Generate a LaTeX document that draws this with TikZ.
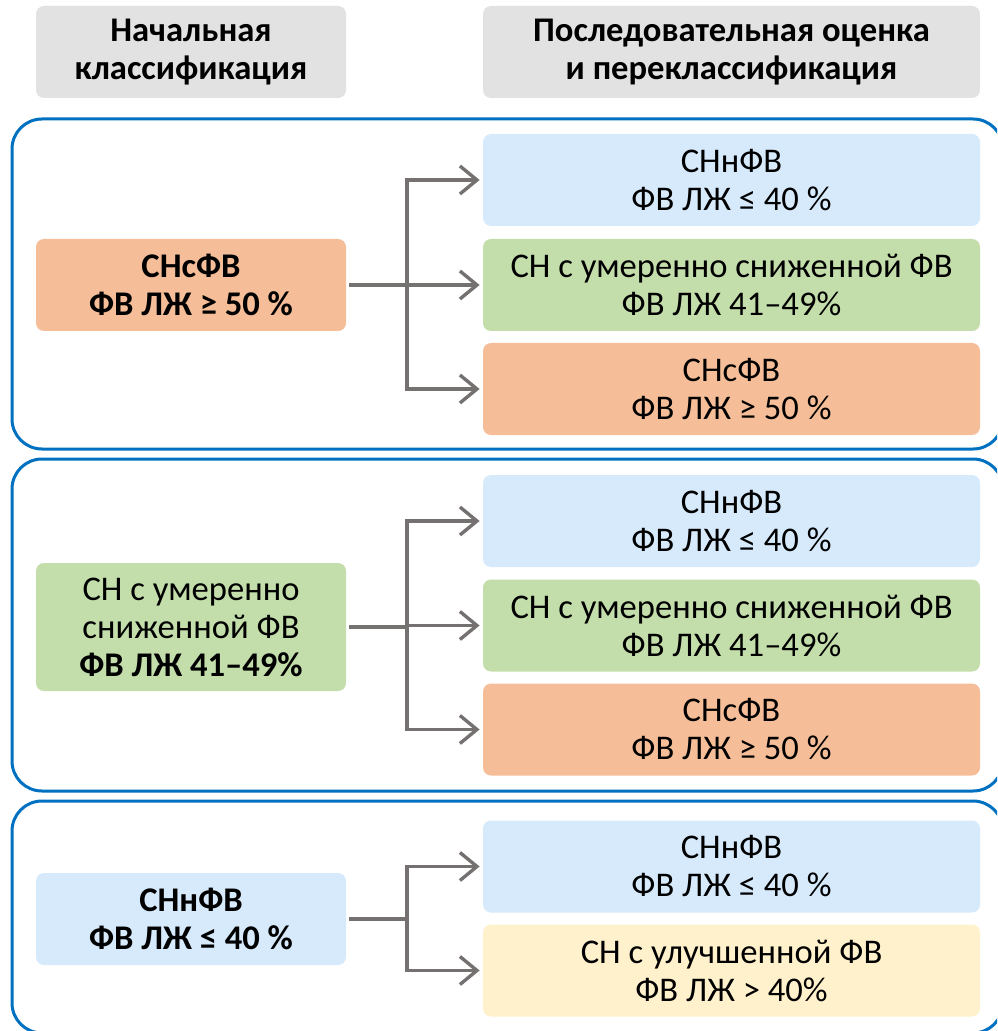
\documentclass[tikz,border=0pt]{standalone}
\usepackage{fontspec}
\setmainfont{Carlito}
\usetikzlibrary{arrows.meta,positioning}
\definecolor{frameblue}{HTML}{0070C0}
\definecolor{hdrgray}{HTML}{E2E2E2}
\definecolor{arrgray}{HTML}{767171}
\definecolor{boxblue}{HTML}{D6EAFC}
\definecolor{boxgreen}{HTML}{C3DEAB}
\definecolor{boxorange}{HTML}{F5BE98}
\definecolor{boxyellow}{HTML}{FFF1CC}

\begin{document}
\begin{tikzpicture}[x=0.5pt,y=-0.5pt,>={Straight Barb[length=8.5pt,width=14pt]},
  box/.style={rounded corners=4pt, align=center, inner sep=0pt,
    font=\fontsize{17.3}{19}\selectfont},
  lbox/.style={box, minimum width=155pt, minimum height=46pt},
  rbox/.style={box, minimum width=248.5pt, minimum height=46pt},
  hdr/.style={box, fill=hdrgray, minimum height=46pt,
    font=\fontsize{17.3}{19}\selectfont\bfseries},
  frame/.style={draw=frameblue, line width=1.5pt, rounded corners=15pt},
  conn/.style={draw=arrgray, line width=1.7pt}]
\useasboundingbox (0,0) rectangle (997,1031);
\clip (0,0) rectangle (997,1031);

% headers
\node[hdr, minimum width=155pt] (h1) at (191,52) {Начальная\\классификация};
\node[hdr, minimum width=248.5pt] (h2) at (731.5,52) {Последовательная оценка\\и переклассификация};

% frames
\draw[frame] (12,119) rectangle (1003,449);
\draw[frame] (12,459) rectangle (1003,791);
\draw[frame] (12,801) rectangle (1003,1033);

% first group
\node[lbox, fill=boxorange] (l1) at (191,285) {\textbf{СНсФВ}\\\textbf{ФВ ЛЖ ≥ 50 \%}};
\node[rbox, fill=boxblue] (r1a) at (731.5,180) {СНнФВ\\ФВ ЛЖ ≤ 40 \%};
\node[rbox, fill=boxgreen] (r1b) at (731.5,285) {СН с умеренно сниженной ФВ\\ФВ ЛЖ 41–49\%};
\node[rbox, fill=boxorange] (r1c) at (731.5,389) {СНсФВ\\ФВ ЛЖ ≥ 50 \%};
\coordinate (j1) at (407,285);
\draw[conn, shorten <=1.5pt] (l1) -- (j1);
\draw[conn, ->, shorten >=1.5pt] (j1) |- (r1a);
\draw[conn, ->, shorten >=1.5pt] (j1) -- (r1b);
\draw[conn, ->, shorten >=1.5pt] (j1) |- (r1c);

% second group
\node[lbox, fill=boxgreen, minimum height=64pt] (l2) at (191,627) {СН с умеренно\\сниженной ФВ\\\textbf{ФВ ЛЖ 41–49\%}};
\node[rbox, fill=boxblue] (r2a) at (731.5,521) {СНнФВ\\ФВ ЛЖ ≤ 40 \%};
\node[rbox, fill=boxgreen] (r2b) at (731.5,625.5) {СН с умеренно сниженной ФВ\\ФВ ЛЖ 41–49\%};
\node[rbox, fill=boxorange] (r2c) at (731.5,729.5) {СНсФВ\\ФВ ЛЖ ≥ 50 \%};
\coordinate (j2) at (407,627);
\draw[conn, shorten <=1.5pt] (l2) -- (j2);
\draw[conn, ->, shorten >=1.5pt] (j2) |- (r2a);
\draw[conn, ->, shorten >=1.5pt] (j2) |- (r2b);
\draw[conn, ->, shorten >=1.5pt] (j2) |- (r2c);

% third group
\node[lbox, fill=boxblue] (l3) at (191,919) {\textbf{СНнФВ}\\\textbf{ФВ ЛЖ ≤ 40 \%}};
\node[rbox, fill=boxblue] (r3a) at (731.5,866.5) {СНнФВ\\ФВ ЛЖ ≤ 40 \%};
\node[rbox, fill=boxyellow] (r3b) at (731.5,970.5) {СН с улучшенной ФВ\\ФВ ЛЖ > 40\%};
\coordinate (j3) at (407,919);
\draw[conn, shorten <=1.5pt] (l3) -- (j3);
\draw[conn, ->, shorten >=1.5pt] (j3) |- (r3a);
\draw[conn, ->, shorten >=1.5pt] (j3) |- (r3b);
\end{tikzpicture}
\end{document}
